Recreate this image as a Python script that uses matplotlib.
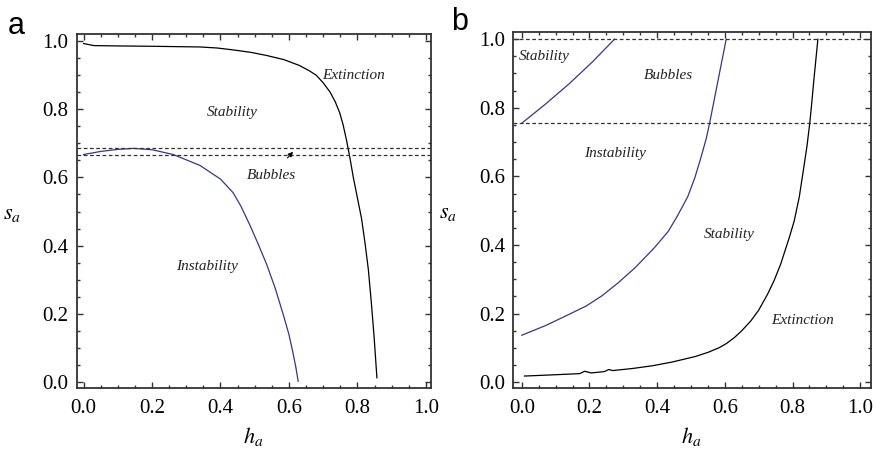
import matplotlib.pyplot as plt
from matplotlib.ticker import MultipleLocator

plt.rcParams['font.family'] = 'Liberation Serif'
plt.rcParams['mathtext.fontset'] = 'stix'

# panel a, values
a_black_h = [0.0, 0.03, 0.1, 0.2, 0.34, 0.39, 0.44, 0.49, 0.535, 0.585, 0.63, 0.66, 0.68,
             0.70, 0.72, 0.735, 0.748, 0.758, 0.768, 0.778, 0.788, 0.80, 0.812, 0.822,
             0.832, 0.841, 0.849, 0.857]
a_black_s = [0.992, 0.986, 0.985, 0.984, 0.982, 0.979, 0.973, 0.966, 0.957, 0.945, 0.928,
             0.912, 0.899, 0.877, 0.85, 0.822, 0.79, 0.755, 0.71, 0.658, 0.60, 0.54, 0.48,
             0.41, 0.33, 0.23, 0.13, 0.013]
a_blue_h = [0.0, 0.05, 0.1, 0.146, 0.2, 0.262, 0.34, 0.4, 0.437, 0.46, 0.486, 0.51, 0.535,
            0.56, 0.584, 0.6, 0.612, 0.62, 0.627]
a_blue_s = [0.667, 0.676, 0.682, 0.685, 0.681, 0.667, 0.635, 0.595, 0.555, 0.515, 0.46,
            0.405, 0.345, 0.275, 0.196, 0.14, 0.085, 0.045, 0.003]
a_dash = [0.686, 0.665]

# panel b
b_blue1_h = [0.0, 0.069, 0.14, 0.21, 0.274]
b_blue1_s = [0.755, 0.81, 0.87, 0.935, 1.0]
b_blue2_h = [0.0, 0.07, 0.14, 0.19, 0.237, 0.285, 0.335, 0.39, 0.433, 0.46, 0.49, 0.511,
             0.528, 0.545, 0.555, 0.57, 0.582, 0.594, 0.604]
b_blue2_s = [0.137, 0.165, 0.198, 0.222, 0.252, 0.29, 0.334, 0.39, 0.44, 0.485, 0.54, 0.595,
             0.65, 0.71, 0.755, 0.83, 0.89, 0.95, 1.0]
b_black_h = [0.008, 0.08, 0.171, 0.186, 0.205, 0.244, 0.257, 0.269, 0.327, 0.386, 0.445,
             0.513, 0.55, 0.582, 0.605, 0.628, 0.65, 0.677, 0.70, 0.726, 0.745, 0.765,
             0.78, 0.79, 0.805, 0.82, 0.834, 0.843, 0.851, 0.857, 0.863, 0.869, 0.875]
b_black_s = [0.018, 0.021, 0.025, 0.032, 0.027, 0.031, 0.037, 0.034, 0.04, 0.048, 0.059,
             0.075, 0.087, 0.1, 0.113, 0.13, 0.15, 0.179, 0.21, 0.256, 0.295, 0.344,
             0.39, 0.42, 0.47, 0.54, 0.63, 0.69, 0.755, 0.815, 0.88, 0.94, 1.0]
b_dash = [1.0, 0.755]

blue = '#35358c'
spine = '#333333'

fig = plt.figure(figsize=(8.76, 4.49), dpi=100)
axa = fig.add_axes([0.0876, 0.1365, 0.4044, 0.7878])
axb = fig.add_axes([0.586, 0.1365, 0.4083, 0.7915])


def style(ax, xlim):
    ax.set_xlim(*xlim)
    ax.set_ylim(-0.016, 1.02)
    ax.xaxis.set_major_locator(MultipleLocator(0.2))
    ax.yaxis.set_major_locator(MultipleLocator(0.2))
    ax.xaxis.set_minor_locator(MultipleLocator(0.05))
    ax.yaxis.set_minor_locator(MultipleLocator(0.05))
    ax.xaxis.set_major_formatter(lambda v, p: f'{v:.1f}')
    ax.yaxis.set_major_formatter(lambda v, p: f'{v:.1f}')
    ax.tick_params(which='both', direction='in', top=True, right=True, color=spine, width=1)
    ax.tick_params(which='major', length=4, labelsize=15)
    ax.tick_params(which='minor', length=2)
    ax.tick_params(axis='x', pad=8)
    ax.tick_params(axis='y', pad=6)
    for sp in ax.spines.values():
        sp.set_color(spine)
        sp.set_linewidth(1.3)
    ax.set_xlabel('$h_a$', fontsize=16, va='center')
    ax.set_ylabel('$s_a$', fontsize=16, rotation=0, va='center', ha='center')
    ax.xaxis.set_label_coords(0.498, -0.138)
    ax.yaxis.set_label_coords(-0.182, 0.49)


tkw = dict(fontsize=11, style='italic', color='#222222', ha='center', va='center')

# panel a
style(axa, (-0.02, 1.015))
axa.plot(a_black_h, a_black_s, color='black', lw=0.9)
axa.plot(a_blue_h, a_blue_s, color=blue, lw=0.9)
for y in a_dash:
    axa.axhline(y, color='#333333', lw=0.9, ls=(0, (3, 2)))
axa.text(0.789, 0.897, 'Extinction', **tkw)
axa.text(0.434, 0.789, 'Stability', **tkw)
axa.text(0.36, 0.338, 'Instability', **tkw)
axa.annotate('Bubbles', xy=(0.612, 0.675), xytext=(0.549, 0.606),
             arrowprops=dict(arrowstyle='-|>', color='black', lw=0.8,
                             mutation_scale=7, shrinkA=8, shrinkB=0), **tkw)

# panel b
style(axb, (-0.025, 1.032))
axb.plot(b_blue1_h, b_blue1_s, color=blue, lw=0.9)
axb.plot(b_blue2_h, b_blue2_s, color=blue, lw=0.9)
axb.plot(b_black_h, b_black_s, color='black', lw=0.9)
for y in b_dash:
    axb.axhline(y, color='#333333', lw=0.9, ls=(0, (3, 2)))
axb.text(0.066, 0.949, 'Stability', **tkw)
axb.text(0.433, 0.893, 'Bubbles', **tkw)
axb.text(0.274, 0.668, 'Instability', **tkw)
axb.text(0.612, 0.431, 'Stability', **tkw)
axb.text(0.829, 0.179, 'Extinction', **tkw)

fig.text(8 / 876, 1 - 33.5 / 449, 'a', fontsize=22, family='Liberation Sans', va='baseline')
fig.text(451 / 876, 1 - 30.5 / 449, 'b', fontsize=22, family='Liberation Sans', va='baseline')

fig.savefig('out.png', dpi=100)
